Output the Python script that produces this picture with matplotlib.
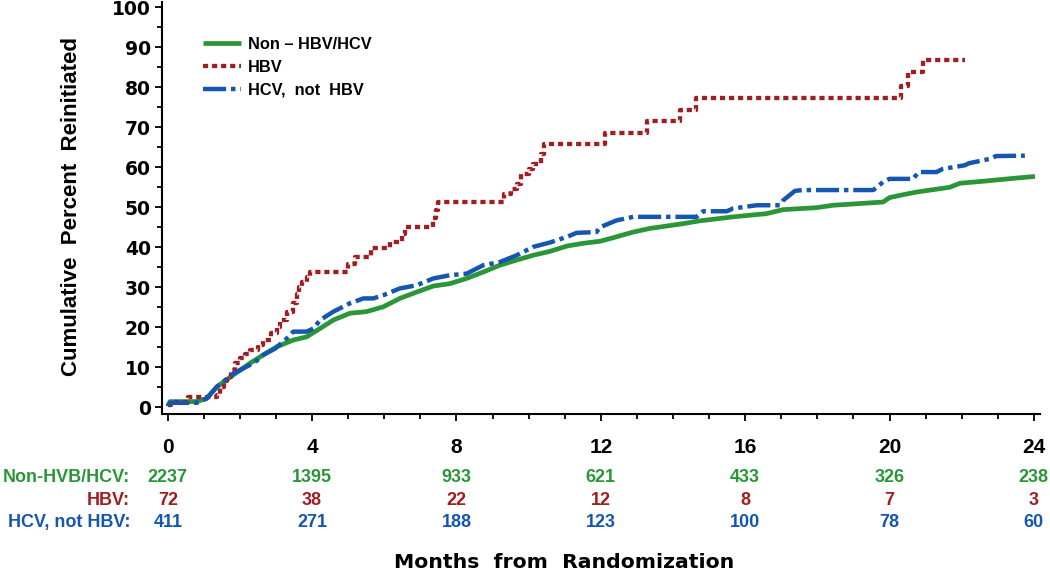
import matplotlib
matplotlib.use("Agg")
import matplotlib.pyplot as plt
import matplotlib.transforms as mtransforms
from matplotlib.ticker import MultipleLocator

# ---------- DATA ----------
non_months = [0, 0.06, 0.8, 1.08, 1.36, 1.82, 2.28, 2.65, 3.02, 3.48, 3.85, 4.22, 4.59,
              5.05, 5.51, 5.97, 6.43, 6.9, 7.36, 7.82, 8.28, 8.74, 9.2, 9.67, 10.13, 10.6,
              11.06, 11.52, 11.98, 12.27, 12.9, 13.36, 14.28, 14.74, 15.67, 16.59, 17.05,
              17.98, 18.44, 19.82, 20.0, 20.3, 20.75, 21.67, 21.95, 22.59, 23.52, 24.03]
non_pct = [0.2, 1.4, 1.4, 2.2, 5.1, 8.1, 11.0, 13.1, 15.1, 16.8, 17.6, 19.7, 21.8,
           23.5, 23.9, 25.1, 27.2, 28.8, 30.3, 30.9, 32.2, 33.8, 35.5, 36.8, 38.0, 39.0,
           40.3, 41.0, 41.5, 42.2, 43.8, 44.7, 45.9, 46.6, 47.6, 48.4, 49.4,
           49.9, 50.5, 51.3, 52.4, 53.0, 53.8, 55.0, 56.0, 56.5, 57.3, 57.7]

hbv_months = [0, 0.1, 0.57, 1.36, 1.45, 1.55, 1.63, 1.75, 1.86, 2.0, 2.15, 2.28, 2.5,
              2.65, 2.85, 3.02, 3.1, 3.3, 3.48, 3.57, 3.65, 3.72, 3.85, 3.94, 5.0, 5.19,
              5.64, 6.16, 6.48, 6.57, 7.36, 7.42, 7.5, 9.32, 9.5, 9.67, 9.8, 10.0, 10.13,
              10.35, 10.42, 12.11, 13.27, 14.19, 14.65, 20.33, 20.52, 20.93, 22.09]
hbv_pct = [0.6, 1.4, 2.6, 3.1, 5.1, 6.5, 7.6, 9.3, 11.0, 12.2, 13.2, 14.3, 15.5,
           16.8, 18.5, 20.1, 21.8, 23.9, 26.0, 28.4, 30.0, 31.3, 32.5, 33.8, 35.9, 37.6,
           39.7, 41.3, 43.2, 45.1, 47.2, 49.2, 51.3, 53.4, 54.6, 55.9, 58.4, 59.6, 60.9,
           63.4, 65.9, 68.6, 71.5, 74.4, 77.3, 80.2, 83.8, 86.8, 86.8]

hcv_months = [0, 0.06, 0.8, 1.08, 1.36, 1.82, 2.28, 2.56, 2.65, 2.98, 3.3, 3.48, 3.85,
              4.04, 4.22, 4.59, 5.05, 5.42, 5.69, 5.97, 6.43, 6.9, 7.36, 7.82, 8.28, 8.74,
              9.2, 9.67, 10.13, 10.6, 11.06, 11.33, 11.88, 11.98, 12.43, 12.9, 14.65,
              14.84, 15.49, 15.67, 16.32, 16.96, 17.05, 17.38, 17.6, 19.55, 19.82, 20.0,
              20.66, 20.8, 21.3, 21.48, 22.09, 22.2, 22.78, 22.95, 23.75]
hcv_pct = [0.3, 1.1, 1.1, 2.2, 5.1, 8.4, 10.6, 12.2, 13.1, 14.7, 17.2, 18.9, 18.9,
           19.7, 21.8, 23.9, 26.0, 27.2, 27.2, 28.0, 29.7, 30.5, 32.2, 33.0, 33.4, 35.5,
           36.3, 38.0, 40.1, 41.2, 42.6, 43.6, 43.8, 45.0, 46.7, 47.6, 47.6,
           49.0, 49.0, 49.7, 50.5, 50.5, 51.7, 54.1, 54.3, 54.3, 56.3, 57.1,
           57.1, 58.8, 58.8, 59.6, 60.5, 61.0, 62.1, 62.8, 62.9]

risk_months = [0, 4, 8, 12, 16, 20, 24]
risk_labels = ["Non-HVB/HCV:", "HBV:", "HCV, not HBV:"]
risk_non = [2237, 1395, 933, 621, 433, 326, 238]
risk_hbv = [72, 38, 22, 12, 8, 7, 3]
risk_hcv = [411, 271, 188, 123, 100, 78, 60]

GREEN = "#2b9638"
RED = "#a01d22"
BLUE = "#1556b0"
# ----------------------------------------------------

plt.rcParams['font.family'] = ['Liberation Sans', 'DejaVu Sans']

fig = plt.figure(figsize=(10.5, 5.86), dpi=100)
ax = fig.add_axes([162 / 1050, 1 - 414 / 586, 878 / 1050, 412.3 / 586])

ax.plot(non_months, non_pct, color=GREEN, lw=3.4, solid_capstyle='butt',
        label="Non \u2013 HBV/HCV")
ax.plot(hbv_months, hbv_pct, color=RED, lw=3.1, drawstyle='steps-post',
        linestyle=(0, (1.2, 0.9)), dash_capstyle='butt', label="HBV")
ax.plot(hcv_months, hcv_pct, color=BLUE, lw=3.2,
        linestyle=(0, (5.2, 1.1, 1.0, 1.1)), dash_capstyle='butt',
        label="HCV,  not  HBV")

ax.set_xlim(-0.16, 24.17)
ax.set_ylim(-1.7, 101.4)

for s in ["top", "right"]:
    ax.spines[s].set_visible(False)
for s in ["left", "bottom"]:
    ax.spines[s].set_linewidth(1.5)

ax.xaxis.set_major_locator(MultipleLocator(4))
ax.xaxis.set_minor_locator(MultipleLocator(1))
ax.yaxis.set_major_locator(MultipleLocator(10))
ax.yaxis.set_minor_locator(MultipleLocator(5))
ax.tick_params(which='major', direction='out', length=5, width=1.3)
ax.tick_params(which='minor', direction='out', length=3.3, width=1.3)
ax.tick_params(axis='x', which='major', pad=12)
ax.tick_params(axis='y', which='major', pad=3)

for lab in ax.get_xticklabels():
    lab.set_fontsize(15)
    lab.set_fontweight('bold')
for lab in ax.get_yticklabels():
    lab.set_family('DejaVu Sans')
    lab.set_fontsize(13.5)
    lab.set_fontweight('bold')

leg = ax.legend(loc='upper left', bbox_to_anchor=(203 / 1050, 1 - 37 / 586),
                bbox_transform=fig.transFigure, frameon=False, borderpad=0,
                borderaxespad=0, handlelength=2.3, handletextpad=0.45,
                labelspacing=0.48, prop={'weight': 'bold', 'size': 11.8})

# number-at-risk table
trans = mtransforms.blended_transform_factory(ax.transData, fig.transFigure)
rows = [(risk_non, GREEN, 478), (risk_hbv, RED, 500.5), (risk_hcv, BLUE, 522.5)]
for (vals, col, ypix), lab in zip(rows, risk_labels):
    fig.text(130 / 1050, 1 - ypix / 586, lab, ha='right', va='center',
             color=col, fontsize=13, fontweight='bold')
    for m, v in zip(risk_months, vals):
        ax.text(m, 1 - ypix / 586, str(v), transform=trans, ha='center',
                va='center', color=col, fontsize=13, fontweight='bold')

fig.text(564 / 1050, 1 - 563 / 586, "Months  from  Randomization", ha='center',
         va='center', fontsize=14.7, fontweight='bold', family='DejaVu Sans')
fig.text(72 / 1050, 1 - 207 / 586, "Cumulative  Percent  Reinitiated", ha='center',
         va='center', rotation=90, fontsize=16, fontweight='bold')

fig.savefig("out.png", dpi=100)
